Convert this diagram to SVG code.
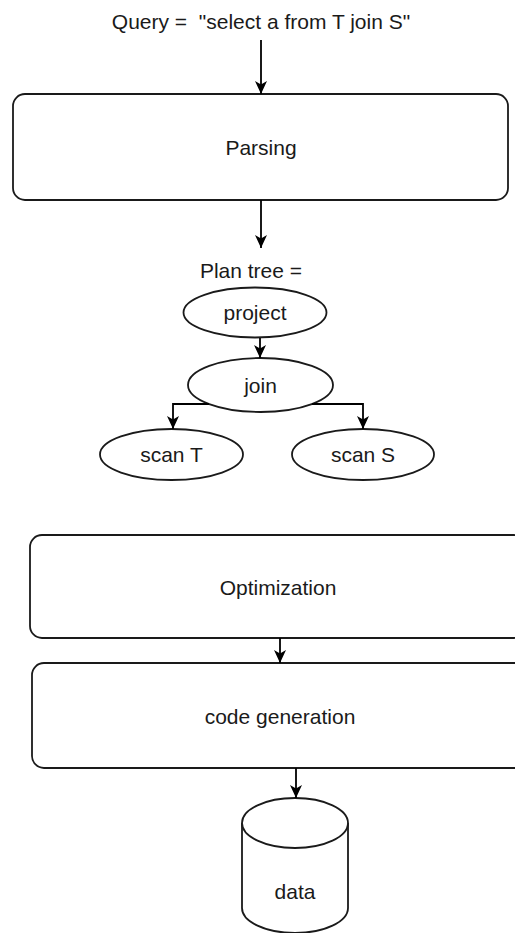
<svg xmlns="http://www.w3.org/2000/svg" width="515" height="933" viewBox="0 0 515 933">
<style>
.box{fill:#fff;stroke:#1a1a1a;stroke-width:1.8}
.t{font-family:"Liberation Sans",Arial,sans-serif;font-size:21px;fill:#1a1a1a;text-anchor:middle}
.c{fill:none;stroke:#000;stroke-width:1.8}
</style>
<defs>
<marker id="ah" markerUnits="userSpaceOnUse" markerWidth="13" markerHeight="12" refX="13" refY="6" orient="auto">
<path d="M0,0 L13,6 L0,12 L3.5,6 Z" fill="#000"/>
</marker>
</defs>
<rect width="515" height="933" fill="#fff"/>
<g id="query"><text class="t" x="261" y="29" xml:space="preserve" style="white-space:pre">Query =  "select a from T join S"</text></g>
<g id="parsing"><rect class="box" x="13" y="94" width="495" height="106" rx="12"/><text class="t" x="261" y="155">Parsing</text></g>
<g id="plantree"><text class="t" x="251" y="278">Plan tree =</text></g>
<g id="project"><ellipse class="box" cx="255" cy="312.5" rx="71.5" ry="25"/><text class="t" x="255" y="320">project</text></g>
<g id="join"><ellipse class="box" cx="260.5" cy="385" rx="72.5" ry="27"/><text class="t" x="260.5" y="393">join</text></g>
<g id="scanT"><ellipse class="box" cx="171.5" cy="454.5" rx="71.5" ry="25.5"/><text class="t" x="171.5" y="462">scan T</text></g>
<g id="scanS"><ellipse class="box" cx="363" cy="454.5" rx="71" ry="25.5"/><text class="t" x="363" y="462">scan S</text></g>
<g id="optimization"><rect class="box" x="30" y="535" width="496" height="103" rx="12"/><text class="t" x="278" y="595">Optimization</text></g>
<g id="codegen"><rect class="box" x="32" y="663" width="496" height="105" rx="12"/><text class="t" x="280" y="724">code generation</text></g>
<g id="data">
<path class="box" d="M242,823 A53,25 0 0 1 348,823 V908 A53,25 0 0 1 242,908 Z"/>
<path class="box" fill="none" d="M242,823 A53,25 0 0 0 348,823"/>
<text class="t" x="295" y="899">data</text>
</g>
<g id="connectors">
<path class="c" d="M261,40 V94" marker-end="url(#ah)"/>
<path class="c" d="M261,200 V248" marker-end="url(#ah)"/>
<path class="c" d="M260,338 V358" marker-end="url(#ah)"/>
<path class="c" d="M209,404 H173 V429" marker-end="url(#ah)"/>
<path class="c" d="M312,404 H363 V429" marker-end="url(#ah)"/>
<path class="c" d="M280,638 V663" marker-end="url(#ah)"/>
<path class="c" d="M296,768 V798" marker-end="url(#ah)"/>
</g>
</svg>
